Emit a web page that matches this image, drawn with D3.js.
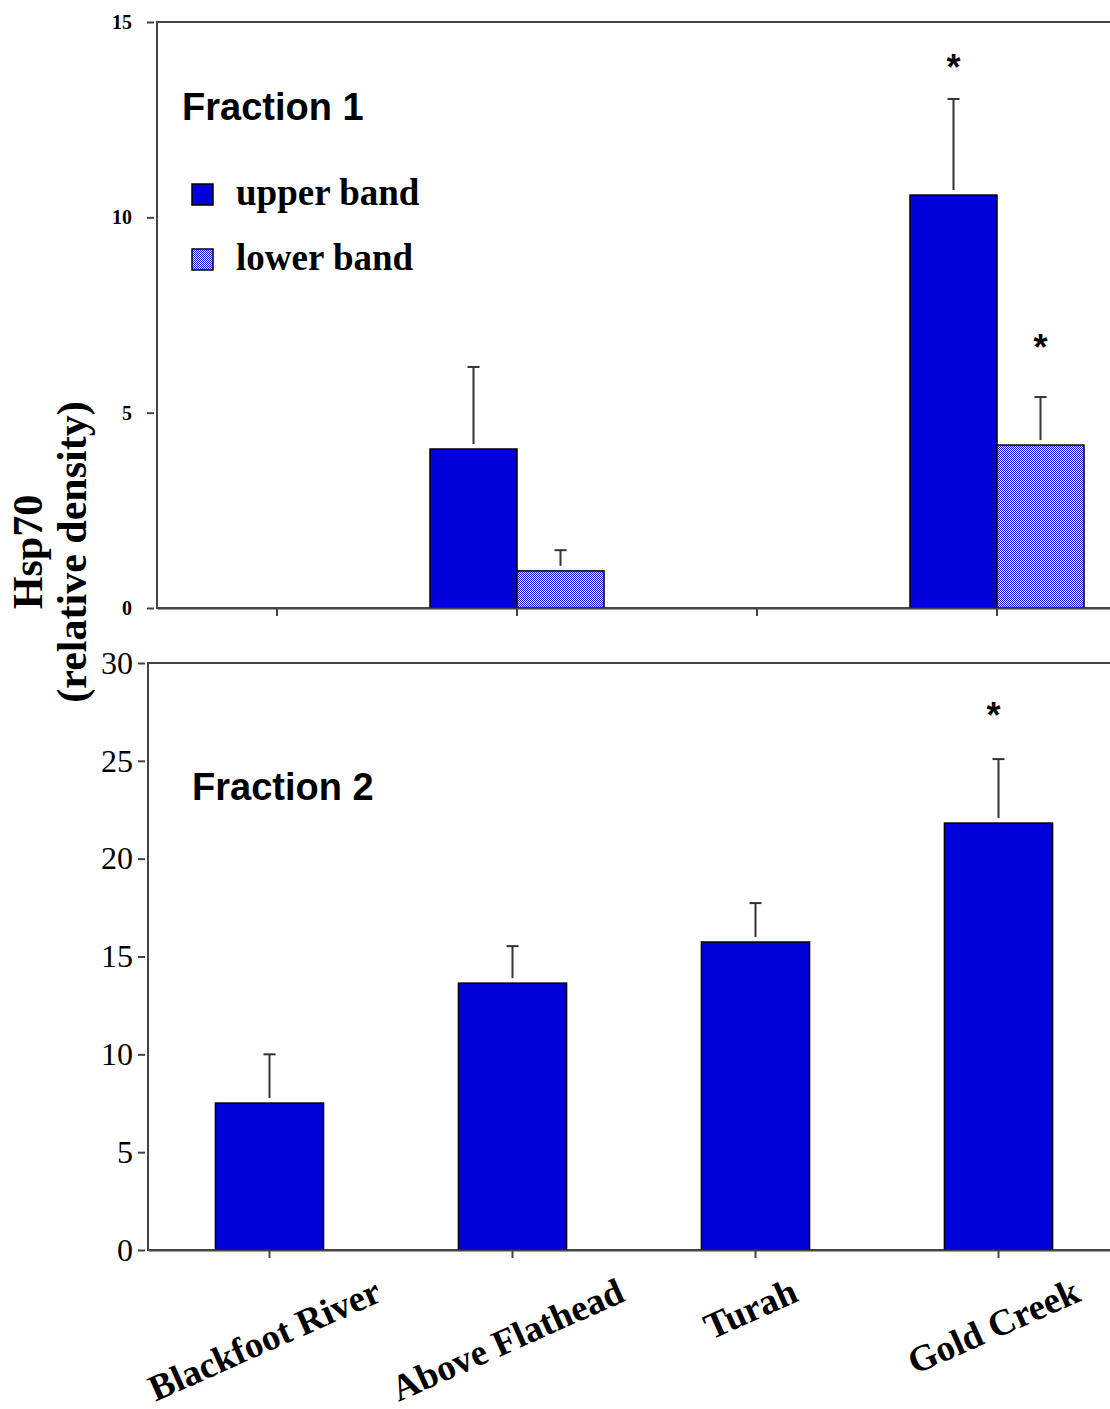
<!DOCTYPE html>
<meta charset="utf-8">
<title>Hsp70 relative density</title>
<style type="text/css">
  body { margin: 0; background: #fff; }
  .serif { font-family: "Liberation Serif", "DejaVu Serif", serif; }
  .sans { font-family: "Liberation Sans", Arial, sans-serif; }
  .axis path, .axis line { stroke: #444; stroke-width: 2; }
</style>
<body>
<script src="https://cdn.jsdelivr.net/npm/d3@7"></script>
<script>

// sites along the x axis
var categories = ["Blackfoot River", "Above Flathead", "Turah", "Gold Creek"];
var bands = ["upper band", "lower band"];

// Fraction 1 (null = no bar)
var f1Upper    = [null, 4.07, null, 10.57];
var f1UpperErr = [null, 2.10, null, 2.46];
var f1Lower    = [null, 0.95, null, 4.17];
var f1LowerErr = [null, 0.53, null, 1.23];
// asterisks, in data units: [category, band, value]
var f1Stars = [["Gold Creek", "upper band", 13.87], ["Gold Creek", "lower band", 6.71]];

// Fraction 2
var f2Values = [7.51, 13.64, 15.74, 21.82];
var f2Err    = [2.49, 1.89, 1.99, 3.27];
var f2Stars  = [["Gold Creek", 27.4]];

var f1Ticks = [0, 5, 10, 15];
var f2Ticks = [0, 5, 10, 15, 20, 25, 30];

var blue = "#0000d8";

var svg = d3.select("body").append("svg")
    .attr("width", 1110)
    .attr("height", 1409);

// checker pattern for the lower band
var pat = svg.append("defs").append("pattern")
    .attr("id", "checker")
    .attr("patternUnits", "userSpaceOnUse")
    .attr("width", 2).attr("height", 2);
pat.append("rect").attr("width", 2).attr("height", 2).attr("fill", "#ffffff");
pat.append("rect").attr("width", 1).attr("height", 1).attr("fill", blue);
pat.append("rect").attr("x", 1).attr("y", 1).attr("width", 1).attr("height", 1).attr("fill", blue);

function errBar(g, cx, yTop, yErr) {
  g.append("line")
    .attr("x1", cx).attr("x2", cx)
    .attr("y1", yTop - 5).attr("y2", yErr)
    .attr("stroke", "#333").attr("stroke-width", 2);
  g.append("line")
    .attr("x1", cx - 6).attr("x2", cx + 6)
    .attr("y1", yErr).attr("y2", yErr)
    .attr("stroke", "#333").attr("stroke-width", 2);
}

function star(g, cx, cy) {
  g.append("text")
    .attr("class", "sans")
    .attr("x", cx).attr("y", cy + 14)
    .attr("text-anchor", "middle")
    .style("font-size", "36px")
    .style("font-weight", "bold")
    .text("*");
}

// ---------------- Fraction 1 ----------------
var x0 = d3.scaleBand().domain(categories).range([157, 1117]).paddingInner(0.275).paddingOuter(0.1375);
var x1 = d3.scaleBand().domain(bands).range([0, x0.bandwidth()]);
var y1 = d3.scaleLinear().domain([0, 15]).range([608, 22]);

var panel1 = svg.append("g");

panel1.append("rect")
  .attr("x", x0.range()[0]).attr("y", y1(15))
  .attr("width", x0.range()[1] - x0.range()[0])
  .attr("height", y1(0) - y1(15))
  .attr("fill", "none").attr("stroke", "#444").attr("stroke-width", 2);

var f1Data = [];
categories.forEach(function(c, i) {
  if (f1Upper[i] != null) f1Data.push({cat: c, band: "upper band", v: f1Upper[i], e: f1UpperErr[i]});
  if (f1Lower[i] != null) f1Data.push({cat: c, band: "lower band", v: f1Lower[i], e: f1LowerErr[i]});
});

f1Data.forEach(function(d) {
  var bx = x0(d.cat) + x1(d.band);
  panel1.append("rect")
    .attr("x", bx).attr("width", x1.bandwidth())
    .attr("y", y1(d.v)).attr("height", y1(0) - y1(d.v))
    .attr("fill", d.band == "upper band" ? blue : "url(#checker)")
    .attr("stroke", "#000").attr("stroke-width", 1.5);
  errBar(panel1, bx + x1.bandwidth() / 2, y1(d.v), y1(d.v + d.e));
});

f1Stars.forEach(function(s) {
  star(panel1, x0(s[0]) + x1(s[1]) + x1.bandwidth() / 2, y1(s[2]));
});

panel1.append("g")
  .attr("class", "axis")
  .attr("transform", "translate(0," + y1(0) + ")")
  .call(d3.axisBottom(x0).tickSize(8).tickSizeOuter(0).tickFormat(""));

var yAx1 = panel1.append("g")
  .attr("class", "axis serif")
  .attr("transform", "translate(154,0)")
  .call(d3.axisLeft(y1).tickValues(f1Ticks).tickSize(7).tickPadding(15));
yAx1.select(".domain").remove();
yAx1.attr("font-family", null).attr("font-size", null);
yAx1.selectAll("text")
  .style("font-size", "20px")
  .style("font-weight", "bold")
  .style("fill", "#000");

panel1.append("text")
  .attr("class", "sans")
  .attr("x", 182).attr("y", 120)
  .style("font-size", "38px").style("font-weight", "bold")
  .text("Fraction 1");

// legend
bands.forEach(function(b, i) {
  panel1.append("rect")
    .attr("x", 192).attr("y", 184 + i * 65)
    .attr("width", 21).attr("height", 21)
    .attr("fill", i == 0 ? blue : "url(#checker)")
    .attr("stroke", "#000").attr("stroke-width", 1.5);
  panel1.append("text")
    .attr("class", "serif")
    .attr("x", 236).attr("y", 205 + i * 65)
    .style("font-size", "37px").style("font-weight", "bold")
    .text(b);
});

// ---------------- Fraction 2 ----------------
var x2 = d3.scaleBand().domain(categories).range([148, 1120]).paddingInner(0.555).paddingOuter(0.2775);
var y2 = d3.scaleLinear().domain([0, 30]).range([1250, 663]);

var panel2 = svg.append("g");

panel2.append("rect")
  .attr("x", x2.range()[0]).attr("y", y2(30))
  .attr("width", x2.range()[1] - x2.range()[0])
  .attr("height", y2(0) - y2(30))
  .attr("fill", "none").attr("stroke", "#444").attr("stroke-width", 2);

categories.forEach(function(c, i) {
  panel2.append("rect")
    .attr("x", x2(c)).attr("width", x2.bandwidth())
    .attr("y", y2(f2Values[i])).attr("height", y2(0) - y2(f2Values[i]))
    .attr("fill", blue)
    .attr("stroke", "#000").attr("stroke-width", 1.5);
  errBar(panel2, x2(c) + x2.bandwidth() / 2, y2(f2Values[i]), y2(f2Values[i] + f2Err[i]));
});

f2Stars.forEach(function(s) {
  star(panel2, x2(s[0]) + x2.bandwidth() / 2 - 5, y2(s[1]));
});

panel2.append("g")
  .attr("class", "axis")
  .attr("transform", "translate(0," + y2(0) + ")")
  .call(d3.axisBottom(x2).tickSize(8).tickSizeOuter(0).tickFormat(""));

var yAx2 = panel2.append("g")
  .attr("class", "axis serif")
  .attr("transform", "translate(145,0)")
  .call(d3.axisLeft(y2).tickValues(f2Ticks).tickSize(7).tickPadding(5));
yAx2.select(".domain").remove();
yAx2.attr("font-family", null).attr("font-size", null);
yAx2.selectAll("text")
  .style("font-size", "32px")
  .style("fill", "#000");

panel2.append("text")
  .attr("class", "sans")
  .attr("x", 192).attr("y", 800)
  .style("font-size", "38px").style("font-weight", "bold")
  .text("Fraction 2");

// rotated site labels, tops of their boxes lined up
var ang = 24, rad = ang * Math.PI / 180, fs = 37;
categories.forEach(function(c) {
  var cx = x2(c) + x2.bandwidth() / 2;
  var t = panel2.append("text")
    .attr("class", "serif")
    .attr("text-anchor", "middle")
    .style("font-size", fs + "px").style("font-weight", "bold")
    .text(c);
  var w = t.node().getComputedTextLength();
  var cy = 1278 + (w / 2) * Math.sin(rad) + 0.66 * fs * Math.cos(rad);
  t.attr("transform", "translate(" + cx + "," + cy + ") rotate(-" + ang + ")");
});

// y axis title, shared by both panels
var yt = svg.append("g").attr("class", "serif");
yt.append("text")
  .attr("transform", "translate(42,552) rotate(-90)")
  .attr("text-anchor", "middle")
  .style("font-size", "42px").style("font-weight", "bold")
  .text("Hsp70");
yt.append("text")
  .attr("transform", "translate(86,552) rotate(-90)")
  .attr("text-anchor", "middle")
  .style("font-size", "42px").style("font-weight", "bold")
  .text("(relative density)");

</script>
</body>
